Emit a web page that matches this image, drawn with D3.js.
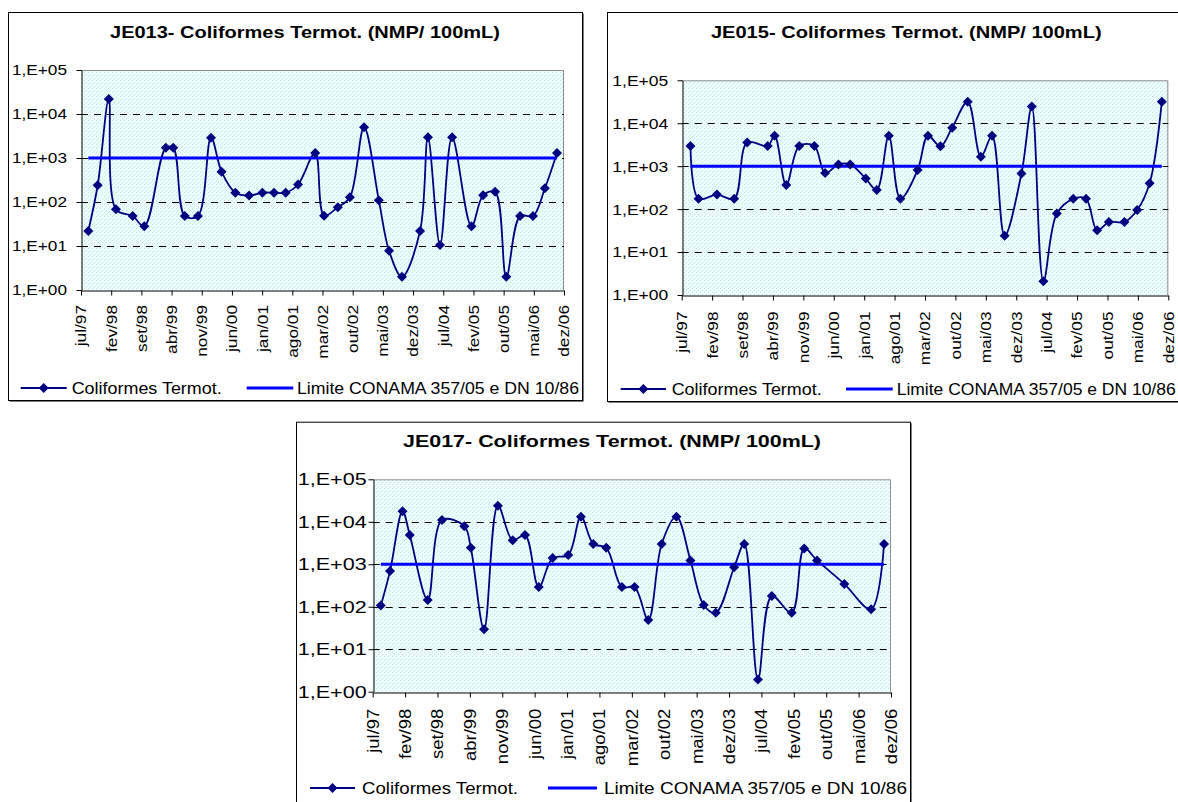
<!DOCTYPE html>
<html><head><meta charset="utf-8">
<script src="https://cdn.jsdelivr.net/npm/d3@7"></script>
<style>body{margin:0;background:#fff}svg{display:block}text{font-family:"Liberation Sans",Arial,sans-serif;fill:#000}</style>
</head><body>
<svg id="c" width="1178" height="802"></svg>
<script>
const xTickLabels = ["jul/97","fev/98","set/98","abr/99","nov/99","jun/00","jan/01","ago/01","mar/02","out/02","mai/03","dez/03","jul/04","fev/05","out/05","mai/06","dez/06"];
const xDomain = ["1997-07-01","2006-12-01"];
const yTickValues = [1,10,100,1000,10000,100000];
const yTickLabels = ["1,E+00","1,E+01","1,E+02","1,E+03","1,E+04","1,E+05"];
const limitValue = 1000;
const seriesName = "Coliformes Termot.";
const limitName = "Limite CONAMA 357/05 e DN 10/86";
const titles = ["JE013- Coliformes Termot. (NMP/ 100mL)","JE015- Coliformes Termot. (NMP/ 100mL)","JE017- Coliformes Termot. (NMP/ 100mL)"];

const je013Dates = ["1997-08-22","1997-10-28","1998-01-15","1998-03-07","1998-07-04","1998-09-25","1999-02-25","1999-04-19","1999-07-10","1999-10-12","2000-01-13","2000-03-28","2000-07-04","2000-10-10","2001-01-13","2001-04-06","2001-06-28","2001-09-24","2002-01-24","2002-03-28","2002-07-04","2002-09-28","2003-01-07","2003-04-22","2003-07-04","2003-10-04","2004-02-10","2004-04-06","2004-07-01","2004-09-25","2005-02-10","2005-05-04","2005-07-28","2005-10-16","2006-01-22","2006-04-24","2006-07-18","2006-10-12"];
const je013Values = [22,240,22000,68,48,28,1700,1700,48,48,2900,490,163,140,163,163,163,250,1300,49,76,128,5000,110,7.8,2,22,2950,10.5,2950,28,142,170,2,48,48,205,1300];

const je015Dates = ["1997-09-01","1997-10-28","1998-03-07","1998-07-07","1998-10-07","1999-03-01","1999-04-19","1999-07-10","1999-10-10","2000-01-25","2000-04-10","2000-07-13","2000-10-04","2001-01-22","2001-04-10","2001-07-04","2001-09-24","2002-01-24","2002-04-07","2002-07-04","2002-09-25","2003-01-13","2003-04-16","2003-07-04","2003-10-01","2004-01-28","2004-04-10","2004-07-01","2004-10-04","2005-01-28","2005-04-28","2005-07-16","2005-10-07","2006-01-25","2006-04-25","2006-07-22","2006-10-16"];
const je015Values = [2950,174,218,174,3540,2950,5100,365,2950,2950,690,1100,1100,515,280,5100,174,810,5100,2900,7900,31500,1650,5100,24,675,24500,2.1,79,174,174,32,50,50,95,400,31500];

const je017Dates = ["1997-08-24","1997-10-24","1998-01-15","1998-03-04","1998-07-01","1998-10-04","1999-03-01","1999-04-13","1999-07-10","1999-10-10","2000-01-16","2000-04-07","2000-07-07","2000-10-07","2001-01-19","2001-04-13","2001-07-04","2001-09-28","2002-01-10","2002-04-04","2002-07-04","2002-10-01","2003-01-07","2003-04-10","2003-07-07","2003-09-25","2004-01-25","2004-04-01","2004-07-01","2004-10-01","2005-02-10","2005-05-04","2005-07-28","2006-01-25","2006-07-22","2006-10-16"];
const je017Values = [107,690,17700,4900,145,11000,7900,2450,29.5,24000,3650,4900,290,1400,1650,13200,3000,2450,290,290,49,3000,13200,1230,110,72,850,3000,1.95,178,72,2350,1230,345,87,3000];

const layouts = [
  {title:titles[0], dates:je013Dates, values:je013Values,
   frame:[8,12,582,400], plot:[81,70,564,290], titleX:305, titleY:38, titleW:390,
   tickFont:15, tickSX:1.15, yLabW:55, yLabGap:14, xLabGap:15, legY:388, legFont:16,
   leg:{l1a:20.7,l1b:66.7,t1:71.7,w1:150,l2a:246.7,l2b:293.3,t2:297,w2:282}},
  {title:titles[1], dates:je015Dates, values:je015Values,
   frame:[607,12,1188,401], plot:[681.7,80.3,1168.3,295], titleX:906.3, titleY:37.7, titleW:390.7,
   tickFont:15, tickSX:1.15, yLabW:56, yLabGap:13.4, xLabGap:16.5, legY:389, legFont:16,
   leg:{l1a:620.7,l1b:666,t1:671.7,w1:150,l2a:846,l2b:892.7,t2:896.7,w2:279}},
  {title:titles[2], dates:je017Dates, values:je017Values,
   frame:[296,421.7,910,840], plot:[372.7,479.3,891,691.7], titleX:612, titleY:446.7, titleW:418,
   tickFont:16.5, tickSX:1.12, yLabW:69, yLabGap:6, xLabGap:17, legY:788, legFont:17,
   leg:{l1a:310,l1b:355,t1:362,w1:156,l2a:548,l2b:597,t2:604,w2:303}}
];

const svg = d3.select("#c");
const defs = svg.append("defs");
const pat = defs.append("pattern").attr("id","dots").attr("patternUnits","userSpaceOnUse").attr("width",4).attr("height",4);
pat.append("rect").attr("width",4).attr("height",4).attr("fill","#effcfc");
pat.append("rect").attr("x",0).attr("y",0).attr("width",1).attr("height",1).attr("fill","#bfe8ea");
pat.append("rect").attr("x",2).attr("y",2).attr("width",1).attr("height",1).attr("fill","#bfe8ea");
pat.append("rect").attr("x",1).attr("y",3).attr("width",1).attr("height",1).attr("fill","#d6f2f2");

const parse = d3.timeParse("%Y-%m-%d");
const diamond = r => `M0,${-r}L${r},0L0,${r}L${-r},0Z`;
const navy = "#000080", blue = "#0000ff";

layouts.forEach(L => {
  const [fx0, fy0, fx1, fy1] = L.frame;
  const [px0, py0, px1, py1] = L.plot;
  const g = svg.append("g");
  g.append("rect").attr("x",fx0+1.5).attr("y",fy0+1.5).attr("width",fx1-fx0).attr("height",fy1-fy0).attr("fill","#000");
  g.append("rect").attr("x",fx0+0.5).attr("y",fy0+0.5).attr("width",fx1-fx0).attr("height",fy1-fy0).attr("fill","#fff").attr("stroke","#000").attr("stroke-width",1);

  const x = d3.scaleTime().domain(xDomain.map(parse)).range([px0, px1]);
  const y = d3.scaleLog().domain([1, 100000]).range([py1, py0]);

  g.append("rect").attr("x",px0).attr("y",py0).attr("width",px1-px0).attr("height",py1-py0).attr("fill","url(#dots)");
  g.append("path").attr("d",`M${px0},${py0+0.5}H${px1-0.5}V${py1}`).attr("fill","none").attr("stroke","#8c8c8c").attr("stroke-width",1);

  g.append("g").selectAll("line").data(yTickValues.slice(1,-1)).join("line")
    .attr("x1",px0).attr("x2",px1).attr("y1",d=>Math.round(y(d))+0.5).attr("y2",d=>Math.round(y(d))+0.5)
    .attr("stroke","#000").attr("stroke-width",1).attr("stroke-dasharray","7,6");

  const ya = d3.axisLeft(y).tickValues(yTickValues).tickFormat("").tickSize(5).tickSizeOuter(0);
  const yg = g.append("g").attr("transform",`translate(${Math.round(px0)+0.5},0)`).call(ya);
  yg.select(".domain").attr("stroke","#000");
  yg.selectAll(".tick line").attr("stroke","#000");
  g.append("g").selectAll("text").data(yTickValues).join("text")
    .attr("x", px0 - L.yLabGap).attr("y", d => y(d)).attr("dy","0.36em")
    .attr("text-anchor","end").attr("font-size",L.tickFont)
    .attr("textLength",L.yLabW).attr("lengthAdjust","spacingAndGlyphs")
    .text((d,i) => yTickLabels[i]);

  const t0 = x.domain()[0].getTime(), t1 = x.domain()[1].getTime();
  const xTicks = d3.range(xTickLabels.length).map(i => new Date(t0 + i*(t1-t0)/(xTickLabels.length-1)));
  const xa = d3.axisBottom(x).tickValues(xTicks).tickFormat("").tickSize(5).tickSizeOuter(0);
  const xg = g.append("g").attr("transform",`translate(0,${Math.round(py1)+0.5})`).call(xa);
  xg.select(".domain").attr("stroke","#000");
  xg.selectAll(".tick line").attr("stroke","#000");
  g.append("g").selectAll("g").data(xTicks).join("g")
    .attr("transform", d => `translate(${x(d)},${py1 + L.xLabGap}) rotate(-90) scale(${L.tickSX},1)`)
    .append("text").attr("text-anchor","end").attr("dy","0.36em").attr("font-size",L.tickFont)
    .text((d,i) => xTickLabels[i]);

  const pts = L.dates.map((d,i) => ({date: parse(d), v: L.values[i]}));
  const line = d3.line().x(d => x(d.date)).y(d => y(d.v)).curve(d3.curveCatmullRom.alpha(0.5));
  g.append("path").datum(pts).attr("d", line).attr("fill","none").attr("stroke",navy).attr("stroke-width",1.8);
  const ext = d3.extent(pts, d => d.date);
  g.append("line").attr("x1",x(ext[0])).attr("x2",x(ext[1])).attr("y1",y(limitValue)).attr("y2",y(limitValue))
    .attr("stroke",blue).attr("stroke-width",3);
  g.append("g").selectAll("path").data(pts).join("path")
    .attr("transform", d => `translate(${x(d.date)},${y(d.v)})`).attr("d", diamond(5)).attr("fill",navy);

  g.append("text").attr("x",L.titleX).attr("y",L.titleY).attr("text-anchor","middle")
    .attr("font-weight","bold").attr("font-size",17)
    .attr("textLength",L.titleW).attr("lengthAdjust","spacingAndGlyphs").text(L.title);

  const lg = L.leg;
  g.append("line").attr("x1",lg.l1a).attr("x2",lg.l1b).attr("y1",L.legY).attr("y2",L.legY).attr("stroke",navy).attr("stroke-width",1.8);
  g.append("path").attr("transform",`translate(${(lg.l1a+lg.l1b)/2},${L.legY})`).attr("d",diamond(5)).attr("fill",navy);
  g.append("text").attr("x",lg.t1).attr("y",L.legY).attr("dy","0.36em").attr("font-size",L.legFont)
    .attr("textLength",lg.w1).attr("lengthAdjust","spacingAndGlyphs").text(seriesName);
  g.append("line").attr("x1",lg.l2a).attr("x2",lg.l2b).attr("y1",L.legY).attr("y2",L.legY).attr("stroke",blue).attr("stroke-width",3);
  g.append("text").attr("x",lg.t2).attr("y",L.legY).attr("dy","0.36em").attr("font-size",L.legFont)
    .attr("textLength",lg.w2).attr("lengthAdjust","spacingAndGlyphs").text(limitName);
});
</script>
</body></html>
